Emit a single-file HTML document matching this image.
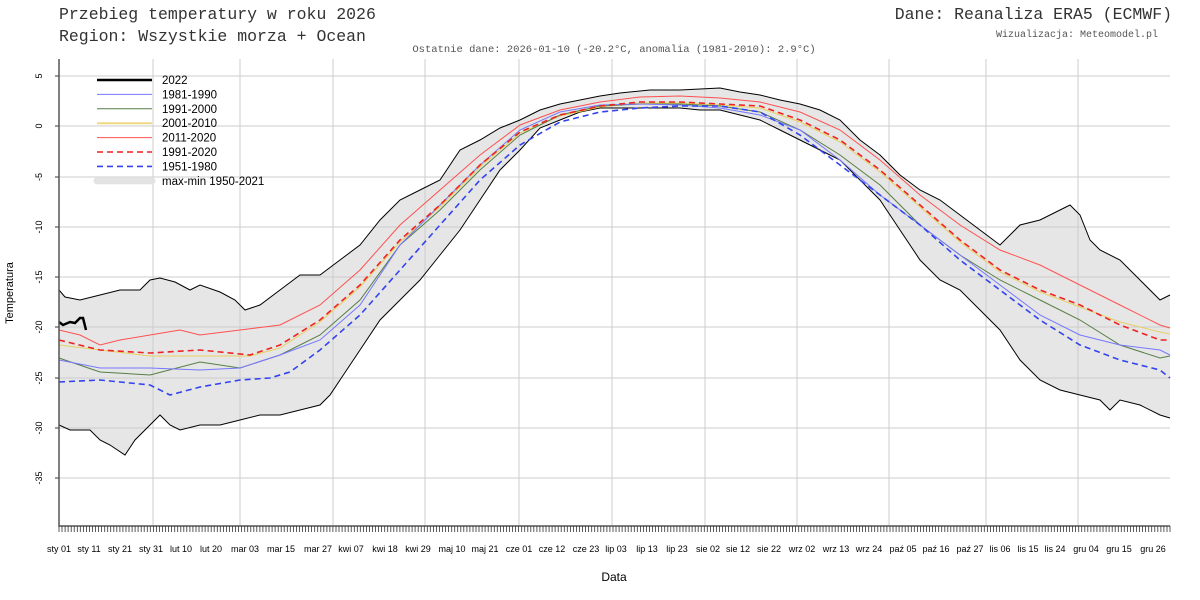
<!DOCTYPE html>
<html><head><meta charset="utf-8"><style>body{margin:0;background:#fff}svg{display:block}</style></head>
<body>
<svg id="s" width="1200" height="600" xmlns="http://www.w3.org/2000/svg" font-family="Liberation Sans, sans-serif">
<text x="59" y="19" font-family="Liberation Mono, monospace" font-size="16.5" fill="#333">Przebieg temperatury w roku 2026</text>
<text x="59" y="41" font-family="Liberation Mono, monospace" font-size="16.5" fill="#333">Region: Wszystkie morza + Ocean</text>
<text x="1172" y="19" text-anchor="end" font-family="Liberation Mono, monospace" font-size="16.5" fill="#333">Dane: Reanaliza ERA5 (ECMWF)</text>
<text x="1158" y="37" text-anchor="end" font-family="Liberation Mono, monospace" font-size="10" fill="#555">Wizualizacja: Meteomodel.pl</text>
<text x="614" y="52" text-anchor="middle" font-family="Liberation Mono, monospace" font-size="10.5" fill="#555">Ostatnie dane: 2026-01-10 (-20.2°C, anomalia (1981-2010): 2.9°C)</text>
<text x="614" y="581" text-anchor="middle" font-size="12">Data</text>
<text transform="translate(13,293) rotate(-90)" text-anchor="middle" font-size="11">Temperatura</text>
<g id="g"></g>
</svg>
<script>
const g=document.getElementById('g');let h='';
const L=59,R=1170,T=59,B=526;
const up=[[59,290],[65,297],[80,300],[100,295],[120,290],[140,290],[150,280],[160,278],[175,282],[190,290],[200,285],[220,292],[235,300],[245,310],[260,305],[280,290],[300,275],[320,275],[340,260],[360,245],[380,220],[400,200],[420,190],[440,180],[460,150],[480,140],[500,128],[520,120],[540,110],[560,104],[580,100],[600,96],[620,93],[650,90],[680,90],[700,89],[720,88],[740,92],[760,95],[780,100],[800,104],[820,110],[840,120],[860,140],[880,155],[900,175],[920,190],[940,200],[960,215],[980,230],[1000,245],[1020,225],[1040,220],[1060,210],[1070,205],[1080,215],[1090,240],[1100,250],[1120,260],[1140,280],[1160,300],[1170,295]];
const lo=[[59,425],[70,430],[90,430],[100,440],[110,445],[125,455],[135,440],[150,425],[160,415],[170,425],[180,430],[200,425],[220,425],[240,420],[260,415],[280,415],[300,410],[320,405],[330,395],[340,380],[360,350],[380,320],[400,300],[420,280],[440,255],[460,230],[480,200],[500,170],[520,150],[540,128],[560,120],[580,112],[600,108],[640,108],[680,108],[700,110],[720,110],[740,115],[760,120],[780,130],[800,140],[820,150],[840,160],[860,180],[880,200],[900,230],[920,260],[940,280],[960,290],[980,310],[1000,330],[1020,360],[1040,380],[1060,390],[1080,395],[1100,400],[1110,410],[1120,400],[1140,405],[1160,415],[1170,418]];
const P=a=>a.map((p,i)=>(i?'L':'M')+p[0]+' '+p[1]).join(' ');
h+=`<path d="${P(up)} ${P(lo.slice().reverse()).replace('M','L')} Z" fill="#e6e6e6"/>`;
[76,126,177,227,277,327,378,428,478].forEach((y,i)=>{h+=`<line x1="${L}" x2="${R}" y1="${y}" y2="${y}" stroke="#ccc"/>`;h+=`<text transform="translate(42,${y}) rotate(-90)" text-anchor="middle" font-size="9">${[5,0,-5,-10,-15,-20,-25,-30,-35][i]}</text>`;h+=`<line x1="${L-4}" x2="${L}" y1="${y}" y2="${y}" stroke="#333"/>`;});
[153,240,333,425,519,612,705,797,889,986,1078].forEach(x=>h+=`<line x1="${x}" x2="${x}" y1="${T}" y2="${B}" stroke="#ccc"/>`);
h+=`<path d="${P(up)}" fill="none" stroke="#000" stroke-width="1"/><path d="${P(lo)}" fill="none" stroke="#000" stroke-width="1"/>`;
const ser=[
['#e8d060',1,'',[[59,345],[150,356],[250,356],[280,348],[320,322],[360,287],[400,242],[440,207],[480,167],[520,133],[560,116],[600,107],[640,103],[680,103],[720,105],[760,108],[800,122],[840,142],[880,172],[920,207],[960,242],[1000,272],[1040,292],[1080,307],[1120,322],[1160,332],[1170,334]]],
['#557f44',1,'',[[59,358],[100,372],[150,375],[200,362],[240,368],[280,355],[320,335],[360,300],[400,245],[440,210],[480,170],[520,135],[560,115],[600,106],[640,104],[680,104],[720,106],[760,112],[800,130],[840,155],[880,185],[920,225],[960,255],[1000,280],[1040,300],[1080,320],[1120,345],[1160,358],[1170,356]]],
['#7777ff',1,'',[[59,360],[100,368],[150,368],[200,370],[240,368],[280,355],[320,340],[360,305],[400,245],[440,205],[480,165],[520,130],[560,112],[600,105],[640,104],[680,105],[720,108],[760,115],[800,130],[840,160],[880,195],[920,225],[960,255],[1000,285],[1040,315],[1080,335],[1120,345],[1160,350],[1170,355]]],
['#ff5050',1,'',[[59,330],[80,335],[100,345],[120,340],[150,335],[180,330],[200,335],[240,330],[280,325],[320,305],[360,270],[400,225],[440,190],[480,155],[520,125],[560,110],[600,102],[640,97],[680,96],[720,98],[760,102],[800,112],[840,130],[880,160],[920,195],[960,225],[1000,250],[1040,265],[1080,285],[1120,305],[1160,325],[1170,328]]],
['#ee2222',1.6,'6,4',[[59,340],[100,350],[150,353],[200,350],[250,355],[280,345],[320,320],[360,285],[400,240],[440,205],[480,165],[520,132],[560,115],[600,106],[640,102],[680,102],[720,104],[760,106],[800,120],[840,140],[880,170],[920,205],[960,240],[1000,270],[1040,290],[1080,305],[1120,325],[1160,340],[1170,340]]],
['#3344ee',1.6,'6,4',[[59,382],[100,380],[120,382],[150,385],[170,395],[200,387],[240,380],[270,378],[290,372],[320,350],[360,315],[400,270],[440,225],[480,180],[520,145],[560,122],[600,112],[640,108],[680,106],[720,106],[760,112],[800,135],[840,165],[880,195],[920,225],[960,260],[1000,290],[1040,320],[1080,345],[1120,360],[1160,370],[1170,378]]],
['#000',2.5,'',[[59,322],[63,325],[70,322],[75,323],[80,318],[83,318],[86,330]]]];
ser.forEach(s=>h+=`<path d="${P(s[3])}" fill="none" stroke="${s[0]}" stroke-width="${s[1]}" ${s[2]?'stroke-dasharray="'+s[2]+'"':''}/>`);
const lg=[['2022','#000',2.5,''],['1981-1990','#7777ff',1,''],['1991-2000','#557f44',1,''],['2001-2010','#f0d880',2,''],['2011-2020','#ff5050',1,''],['1991-2020','#ee2222',1.6,'6,4'],['1951-1980','#3344ee',1.6,'6,4'],['max-min 1950-2021','#e3e3e3',7,'']];
lg.forEach((l,i)=>{const y=80+i*14.4;h+=`<line x1="97" x2="152" y1="${y}" y2="${y}" stroke="${l[1]}" stroke-width="${l[2]}" ${l[3]?'stroke-dasharray="'+l[3]+'"':''} ${i==7?'stroke-linecap="round"':''}/><text x="162" y="${y+4}" font-size="11.5">${l[0]}</text>`;});
h+=`<path d="M${L} ${T} V${B} H${R}" fill="none" stroke="#555" stroke-width="1.5"/>`;
let t='';for(let d=0;d<=365;d++){const x=L+d*(R-L)/365;t+=`M${x.toFixed(1)} ${B}v6`;}
h+=`<path d="${t}" stroke="#333" stroke-width="0.8"/>`;
const xl=[['sty 01',59],['sty 11',89],['sty 21',120],['sty 31',151],['lut 10',181],['lut 20',211],['mar 03',245],['mar 15',281],['mar 27',318],['kwi 07',351],['kwi 18',385],['kwi 29',418],['maj 10',452],['maj 21',485],['cze 01',519],['cze 12',552],['cze 23',586],['lip 03',616],['lip 13',647],['lip 23',677],['sie 02',708],['sie 12',738],['sie 22',769],['wrz 02',802],['wrz 13',836],['wrz 24',869],['paź 05',903],['paź 16',936],['paź 27',970],['lis 06',1000],['lis 15',1028],['lis 24',1055],['gru 04',1086],['gru 15',1119],['gru 26',1153]];
xl.forEach(l=>h+=`<text x="${l[1]}" y="552" text-anchor="middle" font-size="9">${l[0]}</text>`);
g.innerHTML=h;
</script>
</body></html>
